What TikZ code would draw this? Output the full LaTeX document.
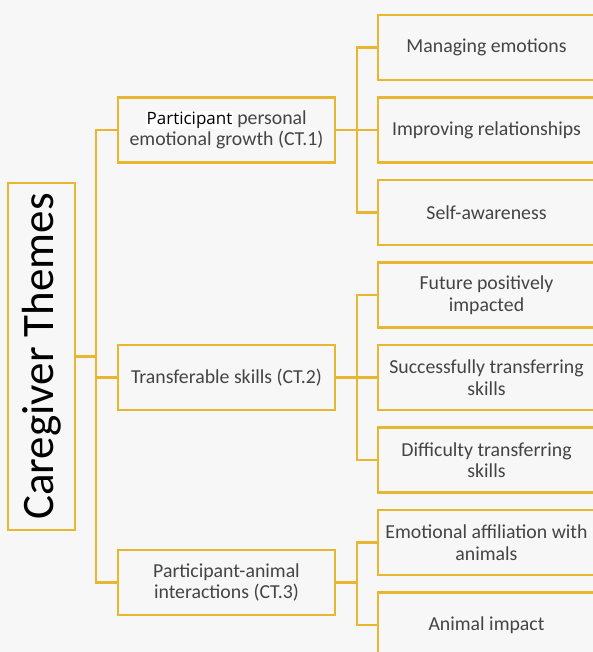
\documentclass[tikz,border=0pt]{standalone}
\usepackage{fontspec}
\setmainfont{Carlito}
\newfontfamily\opensans{Open Sans}
\definecolor{gold}{HTML}{E8B630}
\definecolor{bg}{HTML}{F7F7F7}
\definecolor{txt}{HTML}{444444}
\begin{document}
\begin{tikzpicture}[x=1pt,y=-1pt,
  box/.style={draw=gold, line width=2.2pt, minimum width=217pt, minimum height=65pt, inner sep=0pt, align=center, text=txt, font=\fontsize{19.8}{21.5}\selectfont},
  mainbox/.style={draw=gold, line width=2.2pt, minimum width=347pt, minimum height=67pt, inner sep=0pt, rotate=90, text=black, font=\fontsize{45}{50}\selectfont},
  link/.style={draw=gold, line width=2.2pt}]
\fill[bg] (0,0) rectangle (593,652);
\useasboundingbox (0,0) rectangle (593,652);
\clip (0,0) rectangle (593,652);
% main
\node[mainbox] (main) at (41.5,356.5) {Caregiver Themes};
% categories
\node[box] (ct1) at (226.5,130) {{\setlength\fboxsep{0.5pt}\colorbox{white}{\opensans\fontsize{17}{21}\selectfont\color{black}Participant}} personal\\emotional growth (CT.1)};
\node[box] (ct2) at (226.5,377.5) {Transferable skills (CT.2)};
\node[box] (ct3) at (226.5,582.5) {Participant-animal\\interactions (CT.3)};
% subthemes
\node[box] (r1) at (486.5,47.5) {Managing emotions};
\node[box] (r2) at (486.5,130) {Improving relationships};
\node[box] (r3) at (486.5,212.5) {Self-awareness};
\node[box] (r4) at (486.5,295) {Future positively\\impacted};
\node[box] (r5) at (486.5,377.5) {Successfully transferring\\skills};
\node[box] (r6) at (486.5,460) {Difficulty transferring\\skills};
\node[box] (r7) at (486.5,542.5) {Emotional affiliation with\\animals};
\node[box] (r8) at (486.5,625) {Animal impact};
% trunk
\coordinate (t) at (96,356.5);
\draw[link] (main.south) -- (t);
\draw[link] (ct1.west) -| (t);
\draw[link] (ct2.west) -| (t);
\draw[link] (ct3.west) -| (t);
% branches
\coordinate (b1) at (357,130);
\coordinate (b2) at (357,377.5);
\coordinate (b3) at (357,582.5);
\draw[link] (ct1.east) -- (b1);
\draw[link] (ct2.east) -- (b2);
\draw[link] (ct3.east) -- (b3);
\draw[link] (b1) |- (r1.west);
\draw[link] (b1) |- (r2.west);
\draw[link] (b1) |- (r3.west);
\draw[link] (b2) |- (r4.west);
\draw[link] (b2) |- (r5.west);
\draw[link] (b2) |- (r6.west);
\draw[link] (b3) |- (r7.west);
\draw[link] (b3) |- (r8.west);
\end{tikzpicture}
\end{document}
